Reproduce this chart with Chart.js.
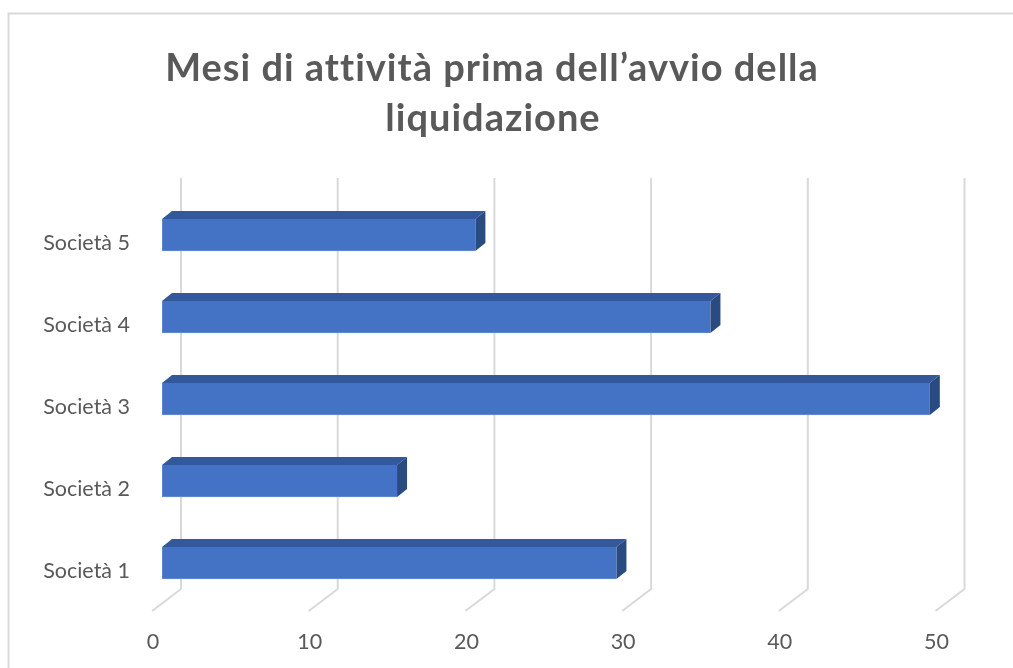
<!DOCTYPE html>
<html>
<head>
<meta charset="utf-8">
<script src="https://cdn.jsdelivr.net/npm/chart.js@4/dist/chart.umd.min.js"></script>
<style>
  html, body { margin: 0; padding: 0; background: #fff; }
  #wrap { position: relative; width: 1013px; height: 668px; }
</style>
</head>
<body>
<div id="wrap"><canvas id="chart" width="1013" height="668"></canvas></div>
<script>
const categories = ['Società 1', 'Società 2', 'Società 3', 'Società 4', 'Società 5'];
const months = [29, 15, 49, 35, 20];
const titleLines = ['Mesi di attività prima dell’avvio della', 'liquidazione'];
const xTicks = [0, 10, 20, 30, 40, 50];

const TEXT = '#595959';
const GRID = '#d9d9d9';
const FRONT = '#4472c4';
const TOP_FACE = '#34599a';
const SIDE_FACE = '#2a4a82';
const DEPTH_X = 10, DEPTH_Y = 8;     // bar depth (3D offset)
const WALL_X = 19;                   // back wall offset from bar front plane
const FLOOR_X = -10;                 // floor front edge offset from bar front plane
const FONT = 'Lato, "Open Sans", sans-serif';

const chrome = {
  id: 'chrome',
  beforeDraw(chart) {
    const ctx = chart.ctx;
    ctx.save();
    // chart frame
    ctx.strokeStyle = GRID;
    ctx.lineWidth = 2;
    ctx.beginPath();
    ctx.moveTo(8.5, 668);
    ctx.lineTo(8.5, 13.5);
    ctx.lineTo(1013, 13.5);
    ctx.stroke();
    // title
    ctx.fillStyle = TEXT;
    ctx.font = 'bold 38px ' + FONT;
    ctx.letterSpacing = '1px';
    ctx.textAlign = 'center';
    ctx.textBaseline = 'alphabetic';
    ctx.fillText(titleLines[0], 492, 81);
    ctx.fillText(titleLines[1], 493, 131);
    ctx.restore();
  },
  beforeDatasetsDraw(chart) {
    const ctx = chart.ctx, xs = chart.scales.x;
    ctx.save();
    ctx.strokeStyle = GRID;
    ctx.lineWidth = 2;
    xTicks.forEach(v => {
      const p = xs.getPixelForValue(v);
      ctx.beginPath();
      ctx.moveTo(p + WALL_X, 178);
      ctx.lineTo(p + WALL_X, 589);
      ctx.lineTo(p + FLOOR_X, 611);
      ctx.stroke();
    });
    ctx.restore();
  },
  afterDatasetsDraw(chart) {
    const ctx = chart.ctx;
    const meta = chart.getDatasetMeta(0);
    ctx.save();
    meta.data.forEach(bar => {
      const { x, y, base, height } = bar.getProps(['x', 'y', 'base', 'height'], true);
      const top = y - height / 2, bottom = y + height / 2;
      // top face
      ctx.fillStyle = TOP_FACE;
      ctx.beginPath();
      ctx.moveTo(base, top);
      ctx.lineTo(base + DEPTH_X, top - DEPTH_Y);
      ctx.lineTo(x + DEPTH_X, top - DEPTH_Y);
      ctx.lineTo(x, top);
      ctx.closePath();
      ctx.fill();
      // side face
      ctx.fillStyle = SIDE_FACE;
      ctx.beginPath();
      ctx.moveTo(x, top);
      ctx.lineTo(x + DEPTH_X, top - DEPTH_Y);
      ctx.lineTo(x + DEPTH_X, bottom - DEPTH_Y);
      ctx.lineTo(x, bottom);
      ctx.closePath();
      ctx.fill();
    });
    ctx.restore();
  }
};

new Chart(document.getElementById('chart'), {
  type: 'bar',
  data: {
    labels: categories,
    datasets: [{
      label: 'Mesi',
      data: months,
      backgroundColor: FRONT,
      borderColor: '#6a8fd2',
      borderWidth: { top: 0, right: 0, bottom: 1, left: 1 },
      borderSkipped: false,
      barThickness: 32
    }]
  },
  plugins: [chrome],
  options: {
    indexAxis: 'y',
    responsive: false,
    animation: false,
    events: [],
    layout: { padding: { top: 194, right: 67.5, left: 0, bottom: 0 } },
    plugins: { legend: { display: false }, title: { display: false }, tooltip: { enabled: false } },
    scales: {
      x: {
        min: 0, max: 50,
        afterBuildTicks(scale) { scale.ticks = xTicks.map(v => ({ value: v })); },
        afterFit(scale) { scale.height = 64; },
        grid: { display: false, drawTicks: false },
        border: { display: false },
        ticks: { color: TEXT, font: { family: FONT, size: 21.5 }, padding: 25, labelOffset: -9 }
      },
      y: {
        reverse: true,
        afterFit(scale) { scale.width = 162; },
        grid: { display: false, drawTicks: false },
        border: { display: false },
        ticks: { color: TEXT, font: { family: FONT, size: 21.5 }, padding: 32, labelOffset: 8 }
      }
    }
  }
});
</script>
</body>
</html>
